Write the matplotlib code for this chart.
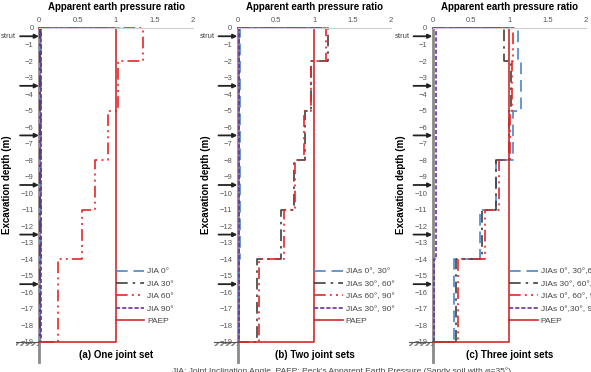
import matplotlib
matplotlib.use('Agg')
import matplotlib.pyplot as plt
from matplotlib.patches import Rectangle

plt.rcParams['font.family'] = ['Liberation Sans', 'DejaVu Sans']

# depth boundaries of each step (m)
depths = [0, -2, -5, -8, -11, -14, -19]
struts = [-0.5, -3.5, -6.5, -9.5, -12.5, -15.5]
paep = [1.0, 1.0, 1.0, 1.0, 1.0, 1.0]

# (a) one joint set
a_labels = ["JIA 0°", "JIA 30°", "JIA 60°", "JIA 90°"]
a_jia0 = [0.02, 0.02, 0.02, 0.02, 0.02, 0.01]
a_jia30 = [0.01, 0.01, 0.01, 0.01, 0.01, 0.01]
a_jia60 = [1.35, 1.02, 0.90, 0.72, 0.55, 0.25]
a_jia90 = [0.02, 0.02, 0.02, 0.02, 0.02, 0.02]

# (b) two joint sets
b_labels = ["JIAs 0°, 30°", "JIAs 30°, 60°", "JIAs 60°, 90°", "JIAs 30°, 90°"]
b_0_30 = [0.03, 0.03, 0.03, 0.03, 0.03, 0.02]
b_30_60 = [1.18, 0.95, 0.88, 0.73, 0.57, 0.25]
b_60_90 = [1.15, 0.96, 0.87, 0.75, 0.60, 0.28]
b_30_90 = [0.02, 0.02, 0.02, 0.02, 0.02, 0.02]

# (c) three joint sets
c_labels = ["JIAs 0°, 30°,60°", "JIAs 30°, 60°, 90°", "JIAs 0°, 60°, 90°", "JIAs 0°,30°, 90°"]
c_0_30_60 = [1.11, 1.15, 1.05, 0.83, 0.62, 0.28]
c_30_60_90 = [0.93, 1.02, 0.99, 0.82, 0.64, 0.31]
c_0_60_90 = [1.04, 1.03, 1.01, 0.86, 0.68, 0.33]
c_0_30_90 = [0.04, 0.04, 0.04, 0.04, 0.04, 0.02]

titles = ["(a) One joint set", "(b) Two joint sets", "(c) Three joint sets"]
lefts = [39.3, 237.7, 432.7]

styles = [
    dict(color='#4a86c8', dashes=(7, 3.5)),
    dict(color='#404040', dashes=(7, 3, 1.5, 3)),
    dict(color='#e8262a', dashes=(7, 2.5, 1.2, 2.5, 1.2, 2.5)),
    dict(color='#7030a0', dashes=(2.5, 1.2)),
]


def profile(vals):
    # step profile: start at wall, one vertical segment per depth interval, back to wall
    xs, ys = [0], [0]
    for i in range(len(vals)):
        xs += [vals[i], vals[i]]
        ys += [depths[i], depths[i + 1]]
    xs.append(0)
    ys.append(depths[-1])
    return xs, ys


W, H = 591, 372
fig = plt.figure(figsize=(W / 100, H / 100), dpi=100)

panels = [
    (a_labels, [a_jia0, a_jia30, a_jia60, a_jia90]),
    (b_labels, [b_0_30, b_30_60, b_60_90, b_30_90]),
    (c_labels, [c_0_30_60, c_30_60_90, c_0_60_90, c_0_30_90]),
]

for k in range(3):
    labels, series = panels[k]
    ax = fig.add_axes([lefts[k] / W, 1 - 342 / H, 153.5 / W, 314 / H])
    ax.set_xlim(0, 2)
    ax.set_ylim(-19, 0)
    for s in ['left', 'right', 'bottom']:
        ax.spines[s].set_visible(False)
    ax.spines['top'].set_color('#d0d0d0')
    ax.spines['top'].set_linewidth(0.8)
    ax.xaxis.tick_top()
    ax.set_xticks([0, 0.5, 1, 1.5, 2])
    ax.set_xticklabels(['0', '0.5', '1', '1.5', '2'])
    ax.set_yticks(range(0, -20, -1))
    ax.tick_params(axis='both', length=0, labelsize=5.5, labelcolor='#555555')
    ax.tick_params(axis='x', pad=3)
    ax.tick_params(axis='y', pad=4)
    ax.patch.set_alpha(0)

    handles = []
    for vals, lab, st in zip(series, labels, styles):
        xs, ys = profile(vals)
        ln, = ax.plot(xs, ys, lw=1.2, label=lab, clip_on=False, **st)
        handles.append(ln)
    xs, ys = profile(paep)
    ln, = ax.plot(xs, ys, color='#d42a2a', lw=1.2, label='PAEP', clip_on=False)
    handles.append(ln)

    # retaining wall
    ax.plot([0, 0], [0, -20.2], color='#8a8a8a', lw=2.0, clip_on=False, zorder=1)
    # struts
    for d in struts:
        ax.annotate('', xy=(-0.005, d), xytext=(-0.25, d),
                    arrowprops=dict(arrowstyle='-|>', color='#222222', lw=1.3,
                                    mutation_scale=6, shrinkA=0, shrinkB=0),
                    annotation_clip=False)
    ax.text(-0.3, -0.5, 'strut', fontsize=5.5, color='#444444', ha='right', va='center')
    # ground at excavation bottom
    ax.plot([-0.31, 0], [-19, -19], color='#555555', lw=0.8, clip_on=False)
    ax.add_patch(Rectangle((-0.31, -19.25), 0.31, 0.25, fill=False, hatch='//////',
                           edgecolor='#777777', lw=0, clip_on=False))

    ax.set_xlabel('Apparent earth pressure ratio', fontsize=7, fontweight='bold', labelpad=5)
    ax.xaxis.set_label_position('top')
    ax.set_ylabel('Excavation depth (m)', fontsize=7, fontweight='bold', labelpad=6)
    ax.text(1.0, -19.8, titles[k], fontsize=7, fontweight='bold', ha='center', va='center')

    leg = ax.legend(handles=handles, loc='upper left', bbox_to_anchor=(1.0, -14.5),
                    bbox_transform=ax.transData, frameon=False, fontsize=6,
                    handlelength=3.4, handletextpad=0.35, labelspacing=0.55,
                    borderpad=0, borderaxespad=0)
    for t in leg.get_texts():
        t.set_color('#444444')

fig.text(172 / W, 1 - 371 / H, "JIA: Joint Inclination Angle, PAEP: Peck's Apparent Earth Pressure (Sandy soil with φ=35°)",
         fontsize=6, color='#444444', ha='left', va='center')

fig.savefig('out.png', dpi=100)
